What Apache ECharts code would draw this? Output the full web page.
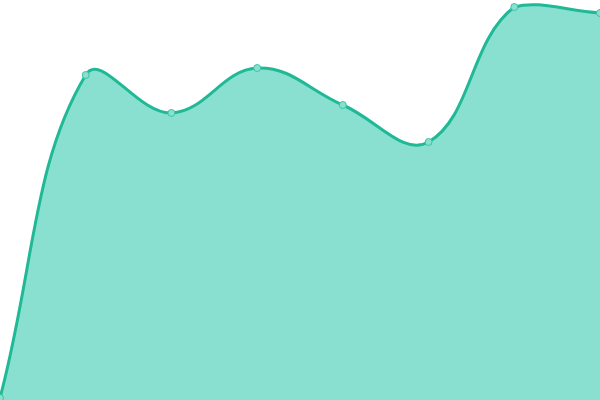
<!DOCTYPE html>
<html>
<head>
<meta charset="utf-8">
<script src="https://cdn.jsdelivr.net/npm/echarts@6/dist/echarts.min.js"></script>
<style>
html,body{margin:0;padding:0;background:#fff;}
#main{width:600px;height:400px;}
</style>
</head>
<body>
<div id="main"></div>
<script>
// 数据
var categories = ['1', '2', '3', '4', '5', '6', '7', '8'];
var values = [2, 325, 287, 332, 295, 258, 393, 387];
var tension = 0.4;

var W = 600, H = 400;
function clamp(v, a, b){ return Math.max(a, Math.min(b, v)); }
//控制点
function ctrl(p0, p1, p2){
    var d01 = Math.sqrt(Math.pow(p1[0]-p0[0],2)+Math.pow(p1[1]-p0[1],2));
    var d12 = Math.sqrt(Math.pow(p2[0]-p1[0],2)+Math.pow(p2[1]-p1[1],2));
    var s01 = d01/(d01+d12), s12 = d12/(d01+d12);
    if(isNaN(s01)) s01 = 0;
    if(isNaN(s12)) s12 = 0;
    var fa = tension*s01, fb = tension*s12;
    return {
        prev: [clamp(p1[0]-fa*(p2[0]-p0[0]),0,W), clamp(p1[1]-fa*(p2[1]-p0[1]),0,H)],
        next: [clamp(p1[0]+fb*(p2[0]-p0[0]),0,W), clamp(p1[1]+fb*(p2[1]-p0[1]),0,H)]
    };
}
function renderItem(params, api){
    var children = [];
    if(params.dataIndex === 0){
        var pts = [];
        for(var i=0;i<values.length;i++){
            pts.push(api.coord([i, values[i]]));
        }
        var cps = [];
        for(var j=0;j<pts.length;j++){
            var a = pts[j-1] || pts[j], b = pts[j+1] || pts[j];
            cps.push(ctrl(a, pts[j], b));
        }
        var d = 'M' + pts[0][0] + ',' + pts[0][1];
        for(var k=1;k<pts.length;k++){
            var c1 = cps[k-1].next, c2 = cps[k].prev;
            d += 'C' + c1[0] + ',' + c1[1] + ',' + c2[0] + ',' + c2[1] + ',' + pts[k][0] + ',' + pts[k][1];
        }
        var base = api.coord([0, 0])[1];
        var area = d + 'L' + pts[pts.length-1][0] + ',' + base + 'L' + pts[0][0] + ',' + base + 'Z';
        children.push({type:'path', shape:{pathData: area}, style:{fill:'#8ae0d0', stroke:null}});
        children.push({type:'path', shape:{pathData: d}, style:{fill:null, stroke:'#1fb996', lineWidth:3}});
    }
    var p = api.coord([params.dataIndex, api.value(1)]);
    children.push({type:'circle', shape:{cx:p[0], cy:p[1], r:3.5}, style:{fill:'#8ae0cf', stroke:'#3cc3a5', lineWidth:1}, z2:10});
    return {type:'group', children: children};
}

var e = echarts.init(document.getElementById('main'));
var option = {
    animation: false,
    grid: {left: 0, right: 0, top: 0, bottom: 0},
    xAxis: {type: 'category', data: categories, boundaryGap: false, show: false},
    yAxis: {type: 'value', min: 0, max: 400, show: false},
    series: [
        {
            type: 'custom',
            renderItem: renderItem,
            clip: false,
            data: values.map(function(v, i){ return [i, v]; })
        }
    ]
};
e.setOption(option);
</script>
</body>
</html>
